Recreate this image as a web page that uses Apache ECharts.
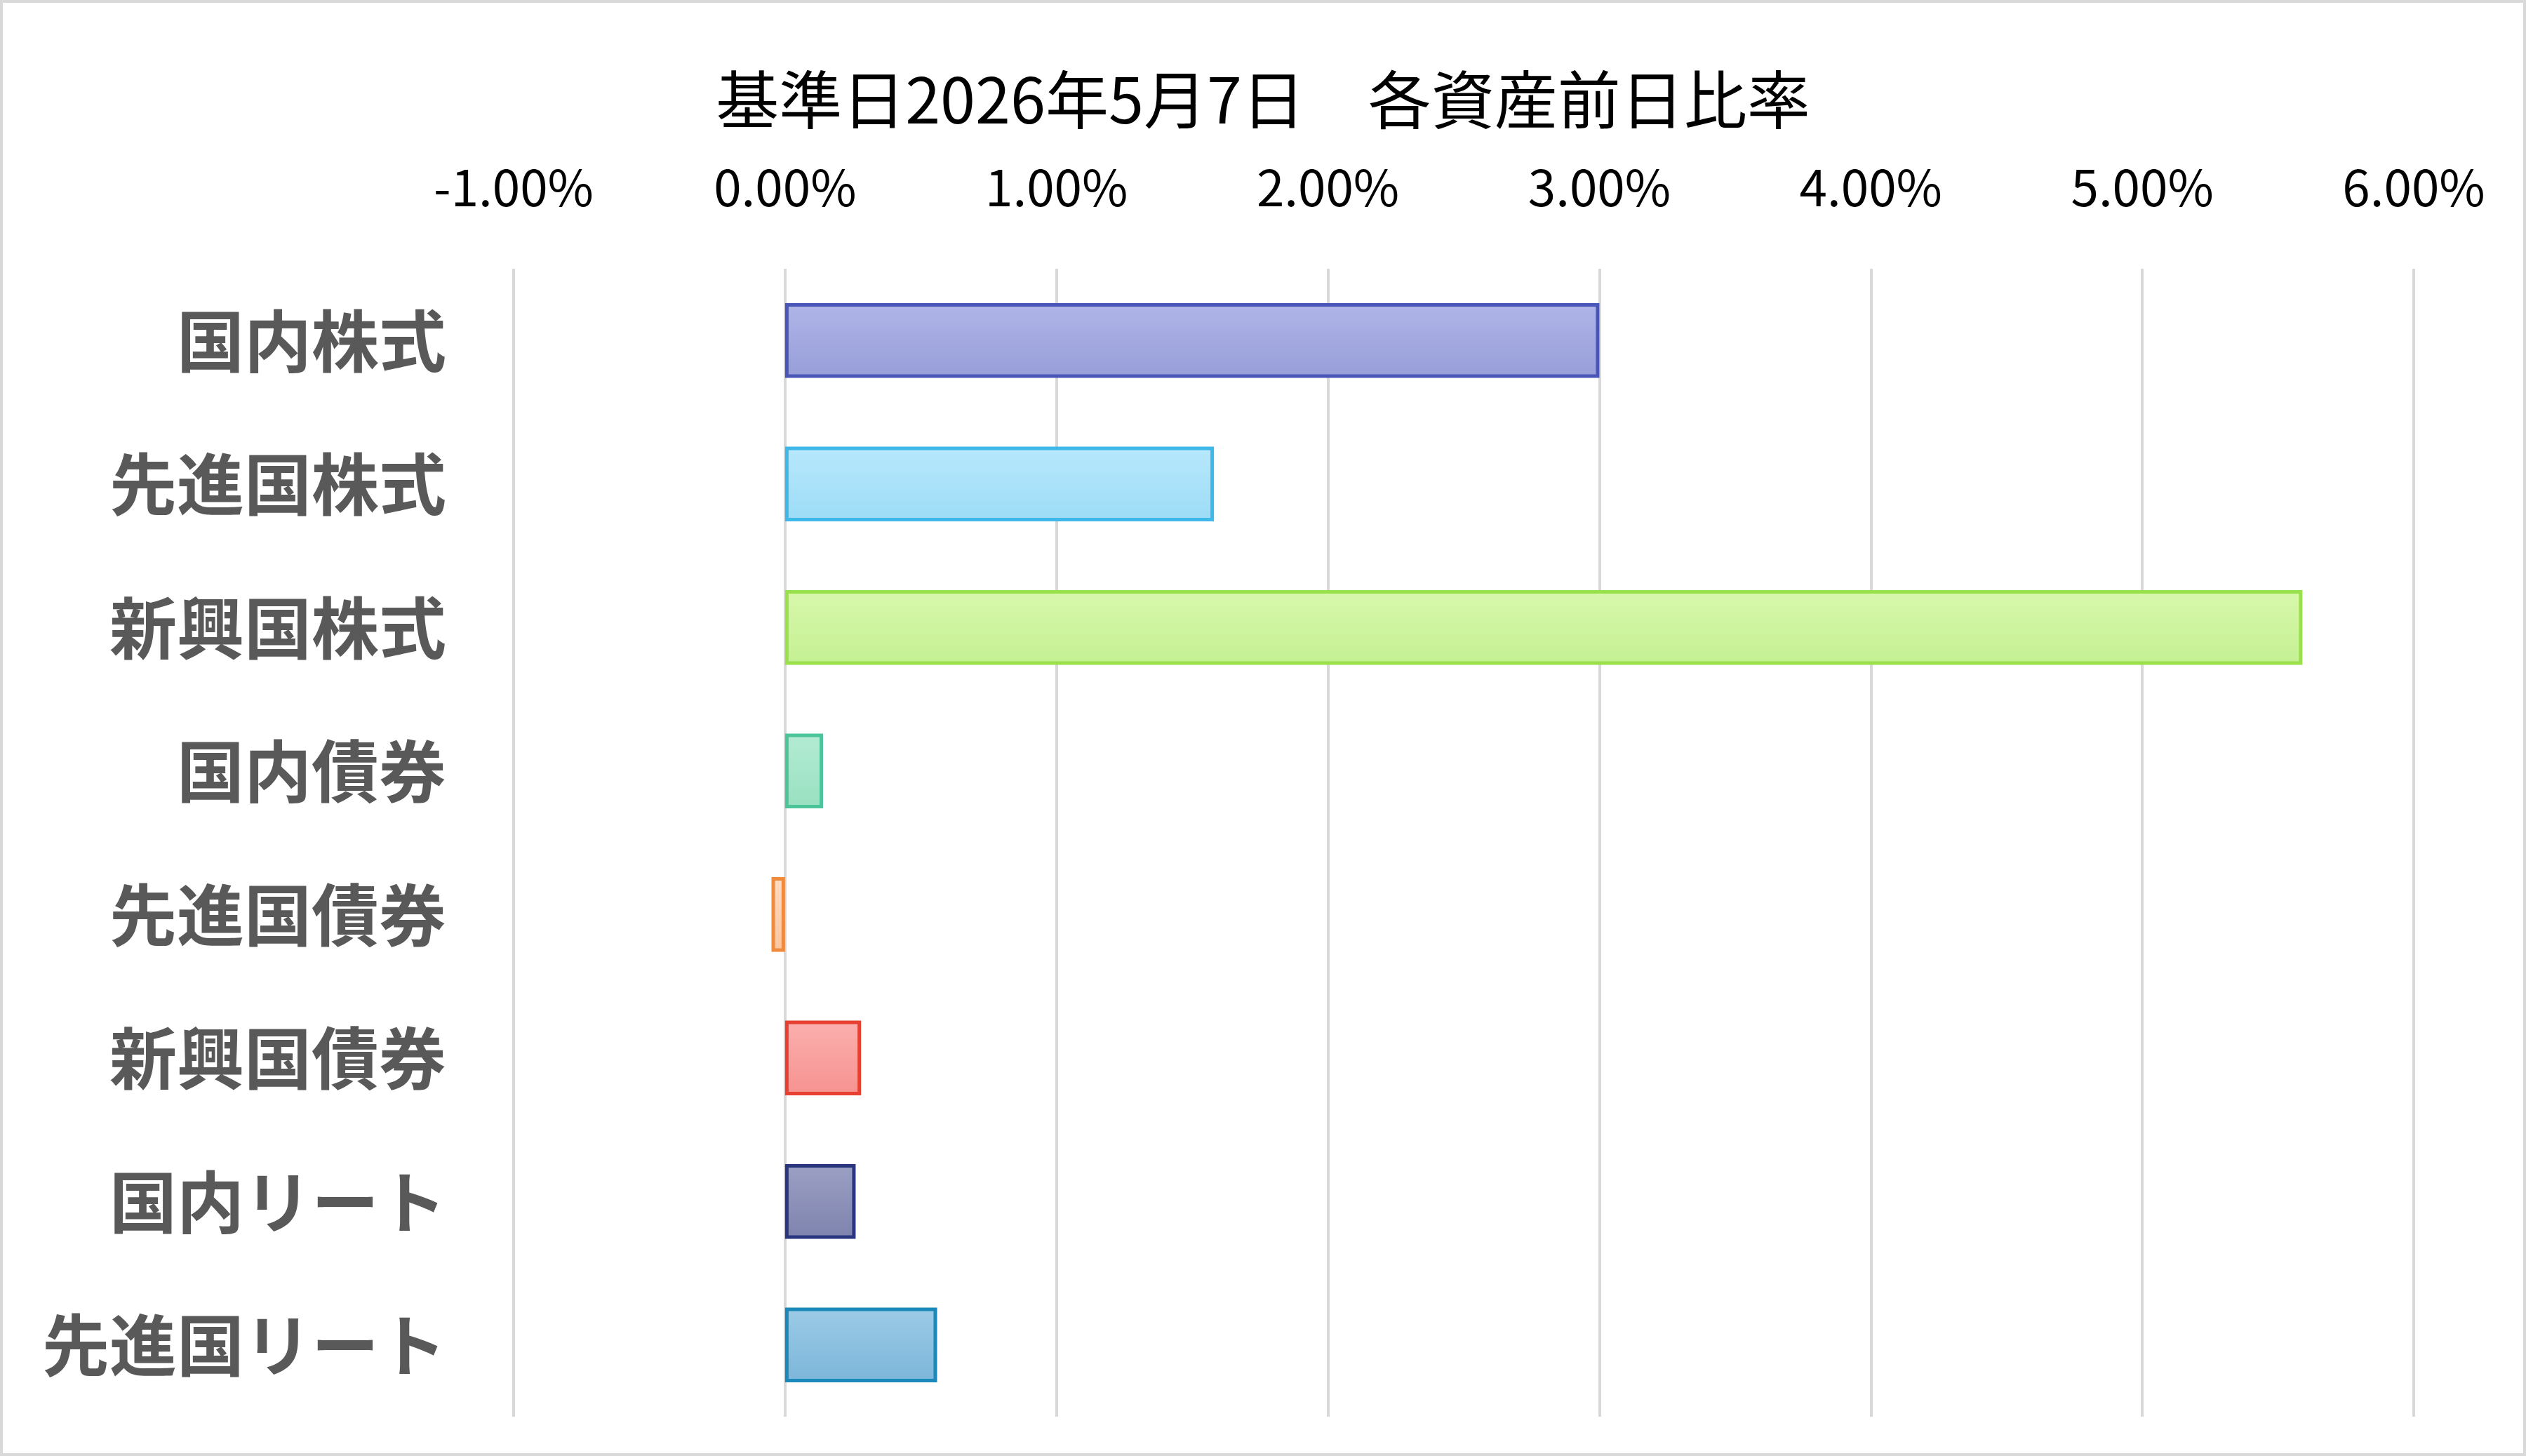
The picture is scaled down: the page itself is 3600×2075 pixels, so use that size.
<!DOCTYPE html>
<html lang="ja">
<head>
<meta charset="UTF-8" />
<title>各資産前日比率</title>
<script src="https://cdn.jsdelivr.net/npm/echarts@6/dist/echarts.min.js"></script>
<style>
  html, body { margin: 0; padding: 0; background: #fff; }
  #main { width: 3600px; height: 2075px; box-sizing: border-box; border: 4px solid #d9d9d9; }
</style>
</head>
<body>
<div id="main"></div>
<script>
  // データ
  var categories = ['国内株式', '先進国株式', '新興国株式', '国内債券', '先進国債券', '新興国債券', '国内リート', '先進国リート'];
  var values = [3.00, 1.58, 5.59, 0.14, -0.05, 0.28, 0.26, 0.56];
  var fillTop = ['#b0b5e8', '#b8e8fc', '#d8f8ac', '#b4ecd4', '#fddcc4', '#fbb0ae', '#9ca0c4', '#9ccbe6'];
  var fillBottom = ['#979ed8', '#9cdcf6', '#c4f092', '#98e0c0', '#fcc49e', '#f69290', '#7e83ae', '#7cb6da'];
  var borderColors = ['#4a55b8', '#3db8e8', '#99e04a', '#4cc49a', '#f08a3c', '#e84030', '#2a3580', '#1a88b8'];

  var chart = echarts.init(document.getElementById('main'));
  var option = {
    title: {
      text: '基準日2026年5月7日　各資産前日比率',
      left: 'center', top: 88,
      textStyle: { fontSize: 90, fontWeight: 'normal', color: '#000', fontFamily: 'Noto Sans CJK JP' }
    },
    grid: { left: 728, right: 156, top: 379, bottom: 52 },
    xAxis: {
      type: 'value', position: 'top', min: -1, max: 6, interval: 1,
      axisLine: { show: false }, axisTick: { show: false },
      splitLine: { lineStyle: { color: '#d9d9d9', width: 4 } },
      axisLabel: {
        formatter: function (v) { return v.toFixed(2) + '%'; },
        fontSize: 71, color: '#000', margin: 80, fontFamily: 'Noto Sans CJK JP'
      }
    },
    yAxis: {
      type: 'category', inverse: true, data: categories,
      axisLine: { show: false }, axisTick: { show: false },
      axisLabel: { fontSize: 96, fontWeight: 'bold', color: '#595959', margin: 96, fontFamily: 'Noto Sans CJK JP' }
    },
    series: [{
      type: 'bar', barWidth: '52%',
      data: values.map(function (v, i) {
        return {
          value: v,
          itemStyle: {
            color: new echarts.graphic.LinearGradient(0, 0, 0, 1, [
              { offset: 0, color: fillTop[i] }, { offset: 1, color: fillBottom[i] }
            ]),
            borderColor: borderColors[i], borderWidth: 5
          }
        };
      })
    }]
  };
  chart.setOption(option);
</script>
</body>
</html>
